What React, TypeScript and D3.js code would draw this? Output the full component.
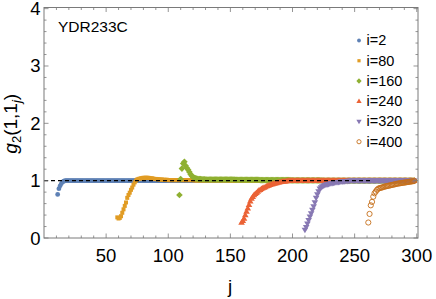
import React from "react";
import * as d3 from "d3";

const W = 436;
const H = 299;

const xTicks = [50, 100, 150, 200, 250, 300];
const yTicks = [0, 1, 2, 3, 4];
const seriesLabels = ["i=2", "i=80", "i=160", "i=240", "i=320", "i=400"];
const seriesStarts = [11, 59, 109, 159, 210, 261];
const seriesColors = ["#5E81B5", "#E19C24", "#8FB032", "#EB6235", "#8778B3", "#C56E1A"];
const markerTypes = ["circle", "square", "diamond", "triUp", "triDown", "openCircle"];
const refLineEnd = 264;
const geneName = "YDR233C";

// i=2, j = 11..298
const valuesI2 = [
  0.76, 0.86, 0.91, 0.95, 0.98, 0.99, 1, 1, 1, 1,
  1, 1, 1, 1, 1, 1, 1, 1, 1, 1,
  1, 1, 1, 1, 1, 1, 1, 1, 1, 1,
  1, 1, 1, 1, 1, 1, 1, 1, 1, 1,
  1, 1, 1, 1, 1, 1, 1, 1, 1, 1,
  1, 1, 1, 1, 1, 1, 1, 1, 1, 1,
  1, 1, 1, 1, 1, 1, 1, 1, 1, 1,
  1, 1, 1, 1, 1, 1, 1, 1, 1, 1,
  1, 1, 1, 1, 1, 1, 1, 1, 1, 1,
  1, 1, 1, 1, 1, 1, 1, 1, 1, 1,
  1, 1, 1, 1, 1, 1, 1, 1, 1, 1,
  1, 1, 1, 1, 1, 1, 1, 1, 1, 1,
  1, 1, 1, 1, 1, 1, 1, 1, 1, 1,
  1, 1, 1, 1, 1, 1, 1, 1, 1, 1,
  1, 1, 1, 1, 1, 1, 1, 1, 1, 1,
  1, 1, 1, 1, 1, 1, 1, 1, 1, 1,
  1, 1, 1, 1, 1, 1, 1, 1, 1, 1,
  1, 1, 1, 1, 1, 1, 1, 1, 1, 1,
  1, 1, 1, 1, 1, 1, 1, 1, 1, 1,
  1, 1, 1, 1, 1, 1, 1, 1, 1, 1,
  1, 1, 1, 1, 1, 1, 1, 1, 1, 1,
  1, 1, 1, 1, 1, 1, 1, 1, 1, 1,
  1, 1, 1, 1, 1, 1, 1, 1, 1, 1,
  1, 1, 1, 1, 1, 1, 1, 1, 1, 1,
  1, 1, 1, 1, 1, 1, 1, 1, 1, 1,
  1, 1, 1, 1, 1, 1, 1, 1, 1, 1,
  1, 1, 1, 1, 1, 1, 1, 1, 1, 1,
  1, 1, 1, 1, 1, 1, 1, 1, 1, 1,
  1, 1, 1, 1, 1, 1, 1, 1,
];

// i=80, j = 59..298
const valuesI80 = [
  0.36, 0.34, 0.35, 0.38, 0.44, 0.5, 0.56, 0.62, 0.7, 0.75,
  0.79, 0.84, 0.88, 0.93, 0.97, 1.0, 1.02, 1.03, 1.035, 1.04,
  1.045, 1.05, 1.05, 1.05, 1.05, 1.05, 1.045, 1.04, 1.04, 1.035,
  1.03, 1.03, 1.025, 1.025, 1.02, 1.02, 1.02, 1.015, 1.015, 1.015,
  1.015, 1.01, 1.01, 1.01, 1.01, 1.01, 1.01, 1.01, 1.01, 1.01,
  1.01, 1.01, 1.01, 1.01, 1.01, 1.01, 1.01, 1.01, 1.01, 1.01,
  1.01, 1.01, 1.005, 1.005, 1.005, 1.005, 1.005, 1.005, 1.005, 1.005,
  1.005, 1.005, 1.005, 1.005, 1.005, 1.005, 1.005, 1.005, 1.005, 1.005,
  1.005, 1.005, 1.005, 1.005, 1.005, 1.005, 1.005, 1.005, 1.005, 1.005,
  1, 1, 1, 1, 1, 1, 1, 1, 1, 1,
  1, 1, 1, 1, 1, 1, 1, 1, 1, 1,
  1, 1, 1, 1, 1, 1, 1, 1, 1, 1,
  1, 1, 1, 1, 1, 1, 1, 1, 1, 1,
  1, 1, 1, 1, 1, 1, 1, 1, 1, 1,
  1, 1, 1, 1, 1, 1, 1, 1, 1, 1,
  1, 1, 1, 1, 1, 1, 1, 1, 1, 1,
  1, 1, 1, 1, 1, 1, 1, 1, 1, 1,
  1, 1, 1, 1, 1, 1, 1, 1, 1, 1,
  1, 1, 1, 1, 1, 1, 1, 1, 1, 1,
  1, 1, 1, 1, 1, 1, 1, 1, 1, 1,
  1, 1, 1, 1, 1, 1, 1, 1, 1, 1,
  1, 1, 1, 1, 1, 1, 1, 1, 1, 1,
  1, 1, 1, 1, 1, 1, 1, 1, 1, 1,
  1, 1, 1, 1, 1, 1, 1, 1, 1, 1,
];

// i=160, j = 109..298
const valuesI160 = [
  0.75, 1.03, 1.21, 1.3, 1.33, 1.26, 1.22, 1.19, 1.15, 1.11,
  1.08, 1.06, 1.05, 1.04, 1.035, 1.03, 1.03, 1.03, 1.025, 1.025,
  1.025, 1.02, 1.02, 1.02, 1.02, 1.02, 1.02, 1.02, 1.02, 1.02,
  1.02, 1.02, 1.02, 1.02, 1.02, 1.02, 1.02, 1.02, 1.02, 1.02,
  1.02, 1.02, 1.02, 1.02, 1.02, 1.015, 1.015, 1.015, 1.015, 1.015,
  1.015, 1.015, 1.015, 1.015, 1.015, 1.015, 1.015, 1.015, 1.015, 1.015,
  1.015, 1.015, 1.015, 1.015, 1.015, 1.01, 1.01, 1.01, 1.01, 1.01,
  1.01, 1.01, 1.01, 1.01, 1.01, 1.01, 1.01, 1.01, 1.01, 1.01,
  1.01, 1.01, 1.01, 1.01, 1.01, 1.01, 1.01, 1.01, 1.01, 1.01,
  1.005, 1.005, 1.005, 1.005, 1.005, 1.005, 1.005, 1.005, 1.005, 1.005,
  1.005, 1.005, 1.005, 1.005, 1.005, 1.005, 1.005, 1.005, 1.005, 1.005,
  1.005, 1.005, 1.005, 1.005, 1.005, 1, 1, 1, 1, 1,
  1, 1, 1, 1, 1, 1, 1, 1, 1, 1,
  1, 1, 1, 1, 1, 1, 1, 1, 1, 1,
  1, 1, 1, 1, 1, 1, 1, 1, 1, 1,
  1, 1, 1, 1, 1, 1, 1, 1, 1, 1,
  1, 1, 1, 1, 1, 1, 1, 1, 1, 1,
  1, 1, 1, 1, 1, 1, 1, 1, 1, 1,
  1, 1, 1, 1, 1, 1, 1, 1, 1, 1,
];

// i=240, j = 159..298
const valuesI240 = [
  0.27, 0.3, 0.34, 0.4, 0.46, 0.52, 0.58, 0.64, 0.69, 0.72,
  0.75, 0.77, 0.79, 0.81, 0.83, 0.84, 0.86, 0.87, 0.88, 0.89,
  0.9, 0.91, 0.92, 0.93, 0.935, 0.94, 0.95, 0.955, 0.96, 0.965,
  0.97, 0.975, 0.98, 0.985, 0.99, 0.99, 0.995, 0.995, 1, 1,
  1, 1, 1, 1, 1, 1, 1, 1, 1, 1,
  1, 1, 1, 1, 1, 1, 1, 1, 1, 1,
  1, 1, 1, 1, 1, 1, 1, 1, 1, 1,
  1, 1, 1, 1, 1, 1, 1, 1, 1, 1,
  1, 1, 1, 1, 1, 1, 1, 1, 1, 1,
  1, 1, 1, 1, 1, 1, 1, 1, 1, 1,
  1, 1, 1, 1, 1, 1, 1, 1, 1, 1,
  1, 1, 1, 1, 1, 1, 1, 1, 1, 1,
  1, 1, 1, 1, 1, 1, 1, 1, 1, 1,
  1, 1, 1, 1, 1, 1, 1, 1, 1, 1,
];

// i=320, j = 210..298
const valuesI320 = [
  0.14, 0.19, 0.25, 0.31, 0.37, 0.43, 0.49, 0.55, 0.62, 0.7,
  0.76, 0.81, 0.86, 0.88, 0.9, 0.91, 0.92, 0.93, 0.935, 0.94,
  0.945, 0.95, 0.955, 0.96, 0.965, 0.97, 0.972, 0.975, 0.978, 0.98,
  0.983, 0.985, 0.988, 0.99, 0.992, 0.994, 0.996, 0.998, 1, 1,
  1, 1, 1, 1, 1, 1, 1, 1, 1, 1,
  1, 1, 1, 1, 1, 1, 1, 1, 1, 1,
  1, 1, 1, 1, 1, 1, 1, 1, 1, 1,
  1, 1, 1, 1, 1, 1, 1, 1, 1, 1,
  1, 1, 1, 1, 1, 1, 1, 1, 1,
];

// i=400, j = 261..298
const valuesI400 = [
  0.27, 0.42, 0.57, 0.63, 0.72, 0.78, 0.81, 0.84, 0.86, 0.87,
  0.875, 0.88, 0.89, 0.895, 0.9, 0.905, 0.91, 0.915, 0.92, 0.925,
  0.93, 0.935, 0.94, 0.945, 0.95, 0.953, 0.957, 0.96, 0.963, 0.966,
  0.97, 0.973, 0.976, 0.98, 0.983, 0.987, 0.99, 0.995,
];

const seriesValues = [valuesI2, valuesI80, valuesI160, valuesI240, valuesI320, valuesI400];

const FONT = "'Liberation Sans', Arial, Helvetica, sans-serif";

function Marker({ type, x, y, color, k = 1 }: { type: string; x: number; y: number; color: string; k?: number }) {
  switch (type) {
    case "circle":
      return <circle cx={x} cy={y} r={2.4 * k} fill={color} />;
    case "square": {
      const s = 4 * k;
      return <rect x={x - s / 2} y={y - s / 2} width={s} height={s} fill={color} />;
    }
    case "diamond": {
      const h = 3.3 * k;
      return <path d={`M${x},${y - h}L${x + h},${y}L${x},${y + h}L${x - h},${y}Z`} fill={color} />;
    }
    case "triUp": {
      const a = 3.3 * k, b = 2.2 * k;
      return <path d={`M${x},${y - a}L${x + a},${y + b}L${x - a},${y + b}Z`} fill={color} />;
    }
    case "triDown": {
      const a = 3.3 * k, b = 2.2 * k;
      return <path d={`M${x},${y + a}L${x + a},${y - b}L${x - a},${y - b}Z`} fill={color} />;
    }
    default:
      return <circle cx={x} cy={y} r={2.6 * k} fill="none" stroke={color} strokeWidth={0.9} />;
  }
}

export default function App() {
  const x = d3.scaleLinear().domain([0, 301]).range([44, 418]);
  const y = d3.scaleLinear().domain([0, 4.02]).range([238, 7.5]);
  const [x0, x1] = x.range();
  const [y0, y1] = y.range();

  const xMinor = d3.range(10, 301, 10);
  const yMinor = d3.range(0, 4.01, 0.2);
  const frameColor = "#7a7a7a";

  return (
    <svg width={W} height={H} style={{ position: "absolute", left: 0, top: 0, background: "#fff" }} fontFamily={FONT}>
      {/* data */}
      {seriesValues.map((vals, si) => (
        <g key={si}>
          {vals.map((v, k) => (
            <Marker key={k} type={markerTypes[si]} x={x(seriesStarts[si] + k)} y={y(v)} color={seriesColors[si]} />
          ))}
        </g>
      ))}

      {/* reference line */}
      <line x1={x(0)} x2={x(refLineEnd)} y1={y(1)} y2={y(1)} stroke="#000" strokeWidth={1.2} strokeDasharray="4,3" />

      {/* frame */}
      <rect x={x0} y={y1} width={x1 - x0} height={y0 - y1} fill="none" stroke={frameColor} strokeWidth={1} />

      {/* ticks */}
      {xMinor.map((t) => {
        const major = t % 50 === 0;
        const len = major ? 4.5 : 2.5;
        return (
          <g key={"xt" + t} stroke={frameColor} strokeWidth={0.8}>
            <line x1={x(t)} x2={x(t)} y1={y0} y2={y0 - len} />
            <line x1={x(t)} x2={x(t)} y1={y1} y2={y1 + len} />
          </g>
        );
      })}
      {yMinor.map((t, i) => {
        const major = i % 5 === 0;
        const len = major ? 4.5 : 2.5;
        return (
          <g key={"yt" + i} stroke={frameColor} strokeWidth={0.8}>
            <line x1={x0} x2={x0 + len} y1={y(t)} y2={y(t)} />
            <line x1={x1} x2={x1 - len} y1={y(t)} y2={y(t)} />
          </g>
        );
      })}

      {/* tick labels */}
      {xTicks.map((t) => (
        <text key={"xl" + t} x={x(t)} y={262} textAnchor="middle" fontSize={18.5} fill="#000">
          {t}
        </text>
      ))}
      {yTicks.map((t) => (
        <text key={"yl" + t} x={40.5} y={y(t) + 6.5} textAnchor="end" fontSize={18.5} fill="#000">
          {t}
        </text>
      ))}

      {/* axis labels */}
      <text x={230} y={292.5} textAnchor="middle" fontSize={19} fill="#000">j</text>
      <text transform={`translate(16.5,${(y0 + y1) / 2 + 1}) rotate(-90)`} textAnchor="middle" fontSize={19} fill="#000">
        <tspan fontStyle="italic">g</tspan>
        <tspan fontSize={13} dy={4}>2</tspan>
        <tspan dy={-4}>(1,1</tspan>
        <tspan fontSize={13} dy={4} fontStyle="italic">j</tspan>
        <tspan dy={-4}>)</tspan>
      </text>

      {/* gene name */}
      <text x={58} y={32.3} fontSize={15.5} fill="#000">{geneName}</text>

      {/* legend */}
      {seriesLabels.map((lab, i) => {
        const cy = 40.5 + i * 20.25;
        return (
          <g key={"lg" + i}>
            <Marker type={markerTypes[i]} x={359} y={cy} color={seriesColors[i]} k={0.8} />
            <text x={366.5} y={cy + 4.8} fontSize={14.5} fill="#000">{lab}</text>
          </g>
        );
      })}
    </svg>
  );
}
